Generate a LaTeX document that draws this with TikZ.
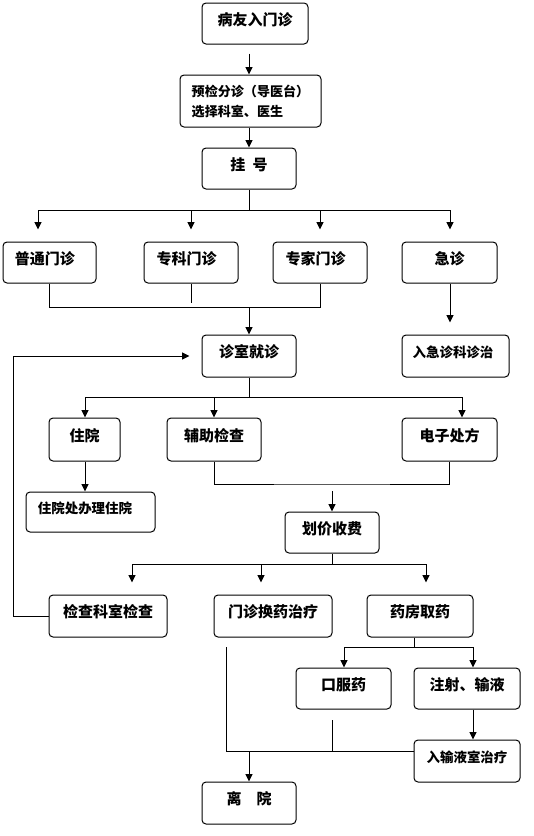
\documentclass[tikz,border=0pt]{standalone}
\usepackage{fontspec}
\newfontfamily\cjk{Noto Sans CJK SC}
\usetikzlibrary{arrows.meta}
\begin{document}
\begin{tikzpicture}[x=0.75pt,y=-0.75pt,
  line width=0.75pt,
  box/.style args={#1/#2}{draw, rounded corners=3pt, minimum width=#1*0.75pt, minimum height=#2*0.75pt, inner sep=0pt,
    font=\cjk\bfseries\fontsize{11.25pt}{13pt}\selectfont, text height=10.1pt, text depth=7.5pt},
  sbox/.style args={#1/#2}{draw, rounded corners=3pt, minimum width=#1*0.75pt, minimum height=#2*0.75pt, inner sep=0pt,
    font=\cjk\bfseries\fontsize{10.1pt}{12pt}\selectfont, text height=9.1pt, text depth=7.4pt},
  tbox/.style args={#1/#2}{draw, rounded corners=3pt, minimum width=#1*0.75pt, minimum height=#2*0.75pt, inner sep=0pt,
    font=\cjk\bfseries\fontsize{9.8pt}{15pt}\selectfont, align=left},
  arr/.style={-{Triangle[width=5.25pt,length=5.5pt]}}]
\useasboundingbox (0,0) rectangle (533,836);

% boxes
\node[box=106/41] (a) at (255,23.5) {病友入门诊};
\node[tbox=141/52] (b) at (250.5,101) {预检分诊（导医台）\\选择科室、医生};
\node[box=94/41] (c) at (249,168.5) {{\spaceskip=0.47em\relax 挂 号}};
\node[box=93/41] (d1) at (49.5,262.5) {普通门诊\kern6.75pt};
\node[box=94/41] (d2) at (191,262.5) {专科门诊\kern6.75pt};
\node[box=94/41] (d3) at (320,262.5) {专家门诊\kern6.75pt};
\node[box=95/41] (d4) at (449.5,262.5) {急诊};
\node[box=94/42] (e) at (249,356) {诊室就诊};
\node[sbox=107/42] (f) at (455.5,356) {入急诊科诊治\kern3.75pt};
\node[box=71/43] (g1) at (84.5,439.5) {住院};
\node[box=94/43] (g2) at (214,439.5) {辅助检查};
\node[box=95/43] (g3) at (449.5,439.5) {电子处方};
\node[sbox=129/40] (h) at (90.5,512) {住院处办理住院\kern8.25pt};
\node[box=94/41] (i) at (332,532.5) {划价收费};
\node[box=118/42] (j1) at (108,616) {检查科室检查};
\node[box=118/42] (j2) at (273,616) {门诊换药治疗};
\node[box=106/42] (j3) at (420,616) {药房取药};
\node[box=95/41] (k1) at (343.5,688.5) {口服药};
\node[box=106/41] (k2) at (467,688.5) {注射、输液};
\node[sbox=106/42] (l) at (467,761) {入输液室治疗};
\node[box=94/42] (m) at (249,803) {{\spaceskip=1em\relax 离 院}};

% junction coordinates
\coordinate (hl) at (38,210);
\coordinate (hr) at (450,210);
\coordinate (jm) at (320,307);
\coordinate (gl) at (85,397);
\coordinate (gr) at (462,397);
\coordinate (jg) at (332,484);
\coordinate (il) at (132,564);
\coordinate (im) at (261,564);
\coordinate (ir) at (426,564);
\coordinate (kl) at (344,647);
\coordinate (kr) at (473,647);
\coordinate (kt) at (414,647);
\coordinate (jx) at (226,647);
\coordinate (jy) at (226,751);
\coordinate (kx) at (332,720);

% connectors
\draw[arr, shorten <=6.75pt] (a.south -| c.north) -- (b.north -| c.north);
\draw[arr] (b.south -| c.north) -- (c.north);

\draw (c.south) -- (c.south |- hl);
\draw (hl) -- (hr);
\draw[arr, shorten >=9pt] (hl) -- (hl |- d1.north);
\draw[arr, shorten >=9pt] (d2.north |- hl) -- (d2.north);
\draw[arr, shorten >=9pt] (d3.north |- hl) -- (d3.north);
\draw[arr, shorten >=9pt] (hr) -- (hr |- d4.north);

\draw (d1.south) |- (jm) -- (d3.south);
\draw[shorten >=3pt] (d2.south) -- (d2.south |- jm);
\draw[arr] (e.north |- jm) -- (e.north);
\draw[arr, shorten >=9pt] (hr |- d4.south) -- (hr |- f.north);

\draw[arr, shorten >=9pt] (j1.west) -- ++(-35,0) |- (e.west);

\draw (e.south) -- (e.south |- gl);
\draw (gl) -- (gr);
\draw[arr] (gl) -- (gl |- g1.north);
\draw[arr] (g2.north |- gl) -- (g2.north);
\draw[arr] (gr) -- (gr |- g3.north);
\draw[arr] (gl |- g1.south) -- (gl |- h.north);

\draw (g2.south) |- (jg) -| (g3.south);
\draw[arr, shorten <=5.25pt] (i.north |- jg) -- (i.north);

\draw (i.south) -- (i.south |- il);
\draw (il) -- (ir);
\draw[arr, shorten >=9pt] (il) -- (il |- j1.north);
\draw[arr, shorten >=9pt] (im) -- (im |- j2.north);
\draw[arr, shorten >=9pt] (ir) -- (ir |- j3.north);

\draw (kt |- j3.south) -- (kt);
\draw (kl) -- (kr);
\draw[arr] (kl) -- (kl |- k1.north);
\draw[arr] (kr) -- (kr |- k2.north);
\draw[arr] (kr |- k2.south) -- (kr |- l.north);

\draw (jx) -- (jy) -- (l.west |- jy);
\draw (kx) -- (kx |- jy);
\draw[arr] (m.north |- jy) -- (m.north);
\end{tikzpicture}
\end{document}
